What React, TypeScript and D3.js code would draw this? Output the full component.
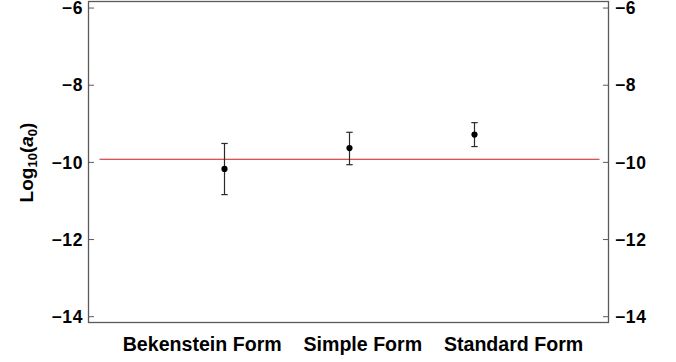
import React from "react";
import * as d3 from "d3";

const categories = ["Bekenstein Form", "Simple Form", "Standard Form"];
const positions = [1, 2, 3];
const centralValues = [-10.17, -9.63, -9.28];
const upperValues = [-9.51, -9.22, -8.97];
const lowerValues = [-10.835, -10.06, -9.59];
const referenceValue = -9.92;
const yTicks = [-6, -8, -10, -12, -14];

const W = 676;
const H = 362;
const frame = { left: 88.5, right: 608.5, top: 1.5, bottom: 322.5 };

export default function App() {
  const x = d3.scaleLinear().domain([-0.088, 4.072]).range([frame.left, frame.right]);
  const y = d3.scaleLinear().domain([-14.15, -5.83]).range([frame.bottom, frame.top]);
  const frameColor = "#5a5a5a";
  const font = "'Liberation Sans', Arial, Helvetica, sans-serif";
  const refLine = d3.line<number>().x((d) => x(d)).y(() => y(referenceValue));

  return (
    <svg
      width={W}
      height={H}
      viewBox={`0 0 ${W} ${H}`}
      style={{ position: "absolute", left: 0, top: 0, background: "#fff" }}
      fontFamily={font}
    >
      <rect x={0} y={0} width={W} height={H} fill="#fff" />
      {/* reference line */}
      <path d={refLine([0, 4]) || ""} stroke="#c81e1e" strokeWidth={1.1} fill="none" />
      {/* error bars */}
      {positions.map((p, i) => {
        const cx = x(p);
        return (
          <g key={categories[i]} stroke="#2a2a2a" strokeWidth={1.2}>
            <line x1={cx} x2={cx} y1={y(upperValues[i])} y2={y(lowerValues[i])} />
            <line x1={cx - 3.2} x2={cx + 3.2} y1={y(upperValues[i])} y2={y(upperValues[i])} />
            <line x1={cx - 3.2} x2={cx + 3.2} y1={y(lowerValues[i])} y2={y(lowerValues[i])} />
            <circle cx={cx} cy={y(centralValues[i])} r={3.1} fill="#000" stroke="none" />
          </g>
        );
      })}
      {/* frame */}
      <rect
        x={frame.left}
        y={frame.top}
        width={frame.right - frame.left}
        height={frame.bottom - frame.top}
        fill="none"
        stroke={frameColor}
        strokeWidth={1.3}
      />
      {yTicks.map((t) => (
        <g key={t}>
          <line x1={frame.left} x2={frame.left + 5.5} y1={y(t)} y2={y(t)} stroke={frameColor} strokeWidth={1} />
          <line x1={frame.right - 5.5} x2={frame.right} y1={y(t)} y2={y(t)} stroke={frameColor} strokeWidth={1} />
          <text x={83} y={y(t)} dy="0.35em" textAnchor="end" fontSize={17.5} letterSpacing={0.6} fontWeight="bold" fill="#000">
            {"\u2212" + Math.abs(t)}
          </text>
          <text x={615} y={y(t)} dy="0.35em" textAnchor="start" fontSize={17.5} letterSpacing={0.6} fontWeight="bold" fill="#000">
            {"\u2212" + Math.abs(t)}
          </text>
        </g>
      ))}
      {/* x labels as one frame label */}
      <text x={353} y={351} textAnchor="middle" fontSize={19.6} fontWeight="bold" fill="#000" style={{ whiteSpace: "pre" }}>
        {categories.join("    ")}
      </text>
      {/* y title */}
      <text transform={`translate(32.5,${162.5}) rotate(-90)`} textAnchor="middle" fontSize={19} fontWeight="bold" fill="#000">
        <tspan>Log</tspan>
        <tspan fontSize={13} dy={4}>10</tspan>
        <tspan dy={-4}>(</tspan>
        <tspan fontStyle="italic">a</tspan>
        <tspan fontSize={13} dy={4}>0</tspan>
        <tspan dy={-4}>)</tspan>
      </text>
    </svg>
  );
}
